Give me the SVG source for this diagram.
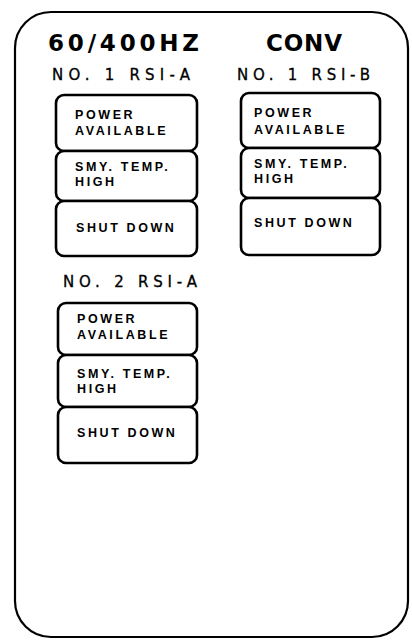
<svg xmlns="http://www.w3.org/2000/svg" width="412" height="640" viewBox="0 0 412 640">
<style>
.frame{fill:none;stroke:#000;stroke-width:2.2}
.box{fill:#fff;stroke:#000;stroke-width:2.6}
.t{font-family:"Liberation Sans",Arial,sans-serif;font-size:12.5px;font-weight:bold;letter-spacing:2.6px;fill:#000}
.h{font-family:"DejaVu Sans","Liberation Sans",sans-serif;font-size:15px;fill:#000;stroke:#000;stroke-width:0.3}
.title{font-family:"DejaVu Sans","Liberation Sans",sans-serif;font-size:23px;font-weight:bold;fill:#000}
</style>
<rect width="412" height="640" fill="#fff"/>
<rect class="frame" x="15" y="12" width="393" height="625" rx="36" ry="36"/>
<g id="titles">
<text class="title" x="48" y="51" textLength="151" lengthAdjust="spacing">60/400HZ</text>
<text class="title" x="266" y="51" textLength="76" lengthAdjust="spacing">CONV</text>
</g>
<g id="rsi1a">
<text class="h" x="52" y="80" textLength="138" lengthAdjust="spacing">NO. 1 RSI-A</text>
<rect class="box" x="56" y="95" width="141" height="56" rx="8"/>
<rect class="box" x="56" y="151" width="141" height="50" rx="8"/>
<rect class="box" x="56" y="201" width="141" height="55" rx="8"/>
<text class="t" x="75" y="119">POWER</text>
<text class="t" x="75" y="135">AVAILABLE</text>
<text class="t" x="75" y="171">SMY. TEMP.</text>
<text class="t" x="75" y="186">HIGH</text>
<text class="t" x="76" y="232">SHUT DOWN</text>
</g>
<g id="rsi1b">
<text class="h" x="237" y="80" textLength="133" lengthAdjust="spacing">NO. 1 RSI-B</text>
<rect class="box" x="241" y="93" width="139" height="55" rx="8"/>
<rect class="box" x="241" y="148" width="139" height="50" rx="8"/>
<rect class="box" x="241" y="198" width="139" height="57" rx="8"/>
<text class="t" x="254" y="117">POWER</text>
<text class="t" x="254" y="134">AVAILABLE</text>
<text class="t" x="254" y="168">SMY. TEMP.</text>
<text class="t" x="254" y="183">HIGH</text>
<text class="t" x="254" y="227">SHUT DOWN</text>
</g>
<g id="rsi2a">
<text class="h" x="63" y="287" textLength="134" lengthAdjust="spacing">NO. 2 RSI-A</text>
<rect class="box" x="58" y="303" width="139" height="52" rx="8"/>
<rect class="box" x="58" y="355" width="139" height="52" rx="8"/>
<rect class="box" x="58" y="407" width="139" height="56" rx="8"/>
<text class="t" x="77" y="323">POWER</text>
<text class="t" x="77" y="339">AVAILABLE</text>
<text class="t" x="77" y="378">SMY. TEMP.</text>
<text class="t" x="77" y="393">HIGH</text>
<text class="t" x="77" y="437">SHUT DOWN</text>
</g>
<g id="connectors"/>
</svg>
